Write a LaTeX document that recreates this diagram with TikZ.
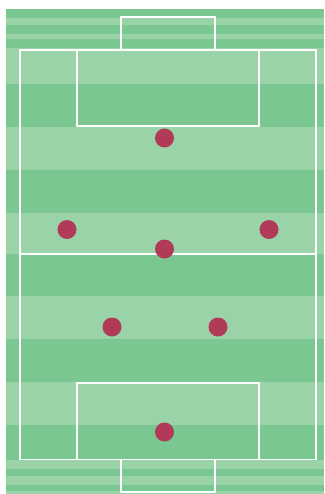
\documentclass[tikz,border=0pt]{standalone}
\definecolor{darkg}{HTML}{7BC792}
\definecolor{lightg}{HTML}{9BD3A8}
\definecolor{player}{HTML}{B03A58}
\begin{document}
\begin{tikzpicture}[x=1pt,y=-1pt,
  pline/.style={draw=white,line width=1.6pt},
  playerdot/.style={circle,fill=player,inner sep=0pt,minimum size=19pt}]
\useasboundingbox (0,0) rectangle (324,494);
\fill[white] (0,0) rectangle (324,494);
% outer top stripes
\fill[darkg] (6,9) rectangle (324,18);
\fill[lightg] (6,18) rectangle (324,25);
\fill[darkg] (6,25) rectangle (324,34);
\fill[lightg] (6,34) rectangle (324,39);
\fill[darkg] (6,39) rectangle (324,48);
% pitch bands
\fill[lightg] (6,48) rectangle (324,84);
\fill[darkg] (6,84) rectangle (324,127);
\fill[lightg] (6,127) rectangle (324,170);
\fill[darkg] (6,170) rectangle (324,213);
\fill[lightg] (6,213) rectangle (324,254);
\fill[darkg] (6,254) rectangle (324,296);
\fill[lightg] (6,296) rectangle (324,339);
\fill[darkg] (6,339) rectangle (324,382);
\fill[lightg] (6,382) rectangle (324,425);
\fill[darkg] (6,425) rectangle (324,460);
% outer bottom stripes
\fill[lightg] (6,460) rectangle (324,469);
\fill[darkg] (6,469) rectangle (324,476);
\fill[lightg] (6,476) rectangle (324,485);
\fill[darkg] (6,485) rectangle (324,491);
\fill[lightg] (6,491) rectangle (324,494);
% lines
\draw[pline] (20,50) rectangle (316,459.5);
\draw[pline] (20,254) -- (316,254);
\draw[pline] (77,50) rectangle (259,126);
\draw[pline] (121,17) rectangle (215,50);
\draw[pline] (77,383) rectangle (259,459.5);
\draw[pline] (121,459.5) rectangle (215,492);
% players
\node[playerdot] (gk) at (164.5,432) {};
\node[playerdot] (d1) at (112,327) {};
\node[playerdot] (d2) at (218,327) {};
\node[playerdot] (m1) at (67,229.5) {};
\node[playerdot] (m2) at (269,229.5) {};
\node[playerdot] (m3) at (164.5,249) {};
\node[playerdot] (f1) at (164.5,138) {};
\end{tikzpicture}
\end{document}
